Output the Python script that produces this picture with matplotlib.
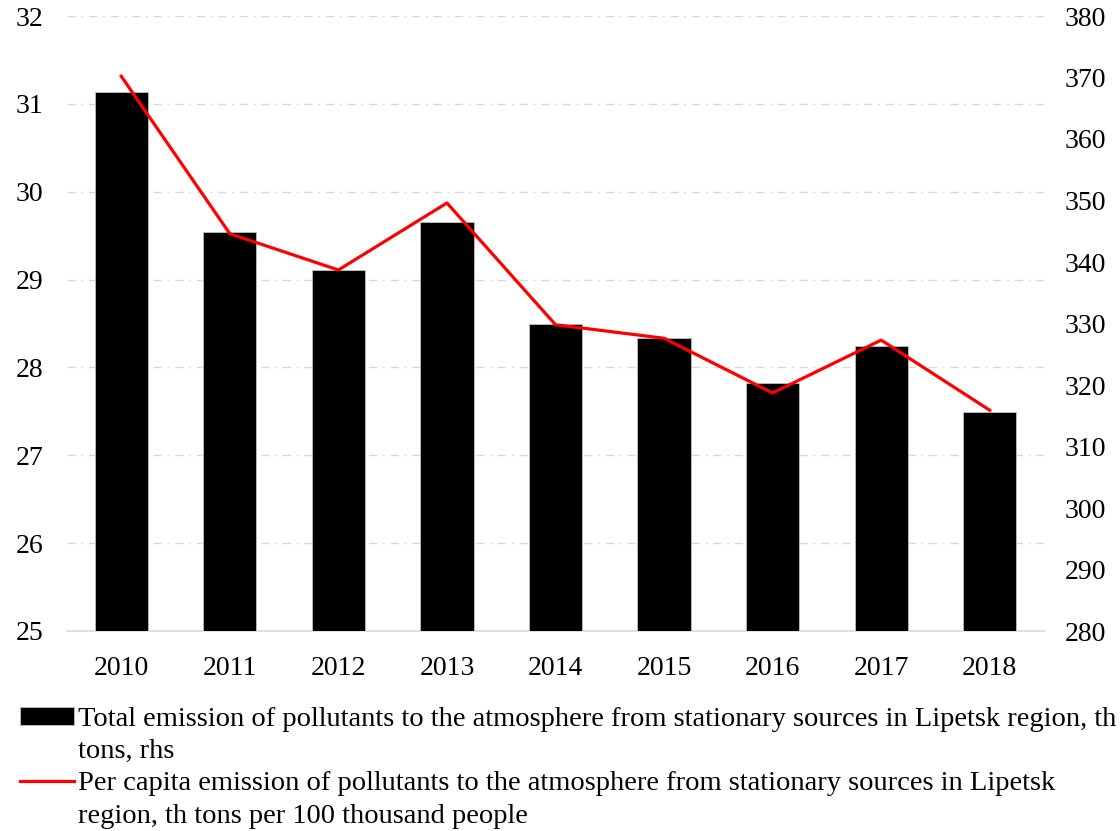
import numpy as np
import matplotlib
matplotlib.use("Agg")
import matplotlib.pyplot as plt
from matplotlib.patches import Patch

years = ["2010", "2011", "2012", "2013", "2014", "2015", "2016", "2017", "2018"]
total_emission = [31.13, 29.54, 29.11, 29.66, 28.49, 28.33, 27.82, 28.24, 27.49]
per_capita = [370.2, 344.6, 338.7, 349.6, 329.8, 327.6, 318.7, 327.3, 315.9]

bar_label = ["Total emission of pollutants to the atmosphere from stationary sources in Lipetsk region, th",
             "tons, rhs"]
line_label = ["Per capita emission of pollutants to the atmosphere from stationary sources in Lipetsk",
              "region, th tons per 100 thousand people"]

plt.rcParams["font.family"] = ["Liberation Serif", "DejaVu Serif"]

fig = plt.figure(figsize=(11.2, 8.31), dpi=100)
ax = fig.add_axes([67 / 1120, 1 - 631 / 831, (1044 - 67) / 1120, (631 - 16) / 831])
ax2 = ax.twinx()

x = np.arange(len(years))
bars = ax.bar(x, total_emission, width=0.49, color="black", edgecolor="#bfbfbf",
              linewidth=0.6, zorder=3)
line, = ax2.plot(x, per_capita, color="#ff0000", linewidth=2.3, zorder=4)

ax.set_xlim(-0.5, 8.5)
ax.set_ylim(25, 32)
ax.set_yticks(range(25, 33))
ax2.set_ylim(280, 380)
ax2.set_yticks(range(280, 381, 10))
ax.set_xticks(x)
ax.set_xticklabels(years)

ax.yaxis.grid(True, color="#d9d9d9", linestyle=(0, (6, 4, 1.5, 4)), linewidth=1.0, zorder=0)
ax.set_axisbelow(True)
for a in (ax, ax2):
    for s in a.spines.values():
        s.set_visible(False)
    a.tick_params(length=0, labelsize=20)
ax.spines["bottom"].set_visible(True)
ax.spines["bottom"].set_color("#d9d9d9")
ax.spines["bottom"].set_linewidth(1.2)
ax.tick_params(axis="y", pad=17)
ax.tick_params(axis="x", pad=18)
ax2.tick_params(axis="y", pad=15)

blank = Patch(visible=False)
fig.legend([bars, blank, line, blank],
           [bar_label[0], bar_label[1], line_label[0], line_label[1]],
           loc="upper left", bbox_to_anchor=(20 / 1120, 1 - 707 / 831), frameon=False,
           fontsize=20.5, handlelength=1.9, handleheight=0.6, handletextpad=0.15,
           labelspacing=0.25, borderaxespad=0, borderpad=0)

fig.savefig("out.png", dpi=100)
